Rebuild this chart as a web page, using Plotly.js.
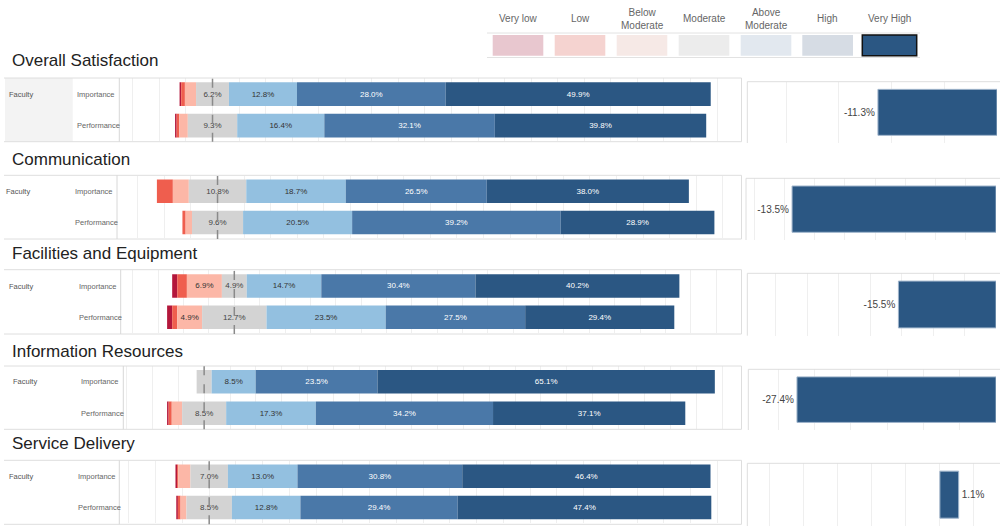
<!DOCTYPE html>
<html><head><meta charset="utf-8">
<script src="https://cdn.plot.ly/plotly-3.0.1.min.js"></script>
<style>html,body{margin:0;padding:0;background:#fff;} #chart{width:1000px;height:527px;}</style>
</head><body><div id="chart"></div>
<script>
// ---------- DATA ----------
const sections = ['Overall Satisfaction','Communication','Facilities and Equipment','Information Resources','Service Delivery'];
const groupLabel = 'Faculty';
const rowLabels = ['Importance','Performance'];
const levels = ['Very low','Low','Below<br>Moderate','Moderate','Above<br>Moderate','High','Very High'];
// each entry: [Importance, Performance] in %
const veryLow       = [[0.3,0.3],[0.0,0.0],[1.0,1.0],[0.0,0.3],[0.3,0.3]];
const low           = [[0.7,0.5],[3.0,0.6],[1.9,1.0],[0.0,0.6],[0.2,0.5]];
const belowModerate = [[2.1,1.6],[3.0,1.2],[6.9,4.9],[0.0,2.0],[2.3,1.1]];
const moderate      = [[6.2,9.3],[10.8,9.6],[4.9,12.7],[2.9,8.5],[7.0,8.5]];
const aboveModerate = [[12.8,16.4],[18.7,20.5],[14.7,23.5],[8.5,17.3],[13.0,12.8]];
const high          = [[28.0,32.1],[26.5,39.2],[30.4,27.5],[23.5,34.2],[30.8,29.4]];
const veryHigh      = [[49.9,39.8],[38.0,28.9],[40.2,29.4],[65.1,37.1],[46.4,47.4]];
const gap = [-11.3,-13.5,-15.5,-27.4,1.1];

// ---------- STYLE / LAYOUT GEOMETRY (pixels) ----------
const W = 1000, H = 527;
const fx = v => v / W, fy = v => 1 - v / H;
const barColors  = ['#b3173b','#ef5e4e','#fcb7a7','#d3d3d3','#93c0e0','#4a78a8','#2b5783'];
const textColors = ['#ffffff','#ffffff','#333333','#444444','#333333','#ffffff','#ffffff'];
const legendColors = ['#e8c7cf','#f5d3d0','#f6e9e6','#ececec','#e2e8ef','#d6dce4','#2b5783'];

const leftX = [[119.3,741],[117,741],[120.7,741],[123.3,741],[119.3,741]];
const leftY = [[78.4,141.4],[175.5,238.2],[270.4,332.8],[366,429],[460.7,523.1]];
const leftRange = [[-17.55,99.5],[-18.9,98.4],[-22.4,99.9],[-15.6,103.6],[-16.8,99.4]];
const rightX = [[747.3,997],[746,996],[747.3,996],[748.3,996],[747.3,997]];
const rightY = [[81.7,143],[178.3,240],[273.3,335.7],[369.3,430],[463.3,526]];
const rightRange = [[-23.7,0],[-16.55,0],[-39.5,0],[-34.1,0],[-11.3,3.35]];
const rightDtick = [5,2,5,5,2];
const boxY = [[78,141.7],[175.3,239],[269.7,334],[366,429.3],[460.3,524.3]];
const titleY = [61,159,254,351,443];
const facultyX = [6.5,4,6.5,11,6.5];
const rowLabelX = [75,73,77,79.3,76];

const FONT = 'Arial, "Liberation Sans", sans-serif';
const traces = [];
const layout = {
  width: W, height: H, margin: {l:0,r:0,t:0,b:0},
  paper_bgcolor: '#fff', plot_bgcolor: 'rgba(0,0,0,0)',
  showlegend: false, barmode: 'overlay', bargap: 0.25,
  font: {family: FONT, color: '#555'},
  shapes: [], annotations: []
};

const series = [veryLow, low, belowModerate, moderate, aboveModerate, high, veryHigh];

for (let i = 0; i < 5; i++) {
  const xn = i === 0 ? '' : String(i + 1);
  const xr = 'x' + xn, yr = 'y' + xn;
  // diverging bases from data
  const starts = [0, 1].map(r => -(veryLow[i][r] + low[i][r] + belowModerate[i][r] + moderate[i][r] / 2));
  const cum = starts.slice();
  series.forEach((s, k) => {
    const vals = [s[i][0], s[i][1]];
    const base = cum.slice();
    cum[0] += vals[0]; cum[1] += vals[1];
    traces.push({
      type: 'bar', orientation: 'h', xaxis: xr, yaxis: yr,
      y: rowLabels, x: vals, base: base,
      marker: {color: barColors[k], line: {width: 0}},
      text: vals.map(v => v >= 4 ? v.toFixed(1) + '%' : ''),
      textposition: 'inside', insidetextanchor: 'middle', textangle: 0,
      textfont: {size: 8, color: textColors[k], family: FONT},
      hoverinfo: 'skip'
    });
  });
  layout['xaxis' + xn] = {
    domain: [fx(leftX[i][0]), fx(leftX[i][1])], range: leftRange[i], anchor: yr,
    showticklabels: false, ticks: '', showgrid: true, gridcolor: '#efefef',
    tick0: 0, dtick: 5, zeroline: false, showline: false, fixedrange: true
  };
  layout['yaxis' + xn] = {
    domain: [fy(leftY[i][1]), fy(leftY[i][0])], anchor: xr, type: 'category',
    categoryorder: 'array', categoryarray: rowLabels, autorange: 'reversed',
    showticklabels: false, ticks: '', showgrid: false, zeroline: false, fixedrange: true
  };

  // right panel (gap)
  const rn = String(i + 6);
  traces.push({
    type: 'bar', orientation: 'h', xaxis: 'x' + rn, yaxis: 'y' + rn,
    y: [groupLabel], x: [gap[i]],
    marker: {color: '#2b5783', line: {width: 1, color: '#9fb4cb'}},
    text: [gap[i].toFixed(1) + '%'], textposition: 'outside', cliponaxis: false,
    textfont: {size: 10, color: '#444', family: FONT}, hoverinfo: 'skip'
  });
  layout['xaxis' + rn] = {
    domain: [fx(rightX[i][0]), fx(rightX[i][1])], range: rightRange[i], anchor: 'y' + rn,
    showticklabels: false, ticks: '', showgrid: true, gridcolor: '#efefef',
    tick0: 0, dtick: rightDtick[i], zeroline: false, showline: false, fixedrange: true
  };
  layout['yaxis' + rn] = {
    domain: [fy(rightY[i][1]), fy(rightY[i][0])], anchor: 'x' + rn, type: 'category',
    showticklabels: false, ticks: '', showgrid: false, zeroline: false, fixedrange: true
  };

  // panel frames
  const S = layout.shapes;
  if (i === 0) {
    S.push({type:'rect', xref:'paper', yref:'paper', x0:fx(5), x1:fx(72.7), y0:fy(boxY[i][1]), y1:fy(boxY[i][0]),
      fillcolor:'#f3f3f3', line:{width:0}, layer:'below'});
  }
  S.push({type:'line', xref:'paper', yref:'paper', x0:fx(4), x1:fx(741.5), y0:fy(boxY[i][0]), y1:fy(boxY[i][0]), line:{color:'#dedede', width:1}});
  S.push({type:'line', xref:'paper', yref:'paper', x0:fx(4), x1:fx(741.5), y0:fy(boxY[i][1]), y1:fy(boxY[i][1]), line:{color:'#dedede', width:1}});
  S.push({type:'line', xref:'paper', yref:'paper', x0:fx(leftX[i][0]), x1:fx(leftX[i][0]), y0:fy(boxY[i][1]), y1:fy(boxY[i][0]), line:{color:'#d8d8d8', width:1}});
  S.push({type:'line', xref:'paper', yref:'paper', x0:fx(741.5), x1:fx(741.5), y0:fy(boxY[i][1]), y1:fy(boxY[i][0]), line:{color:'#dedede', width:1}});
  // right frame
  S.push({type:'line', xref:'paper', yref:'paper', x0:fx(rightX[i][0]), x1:fx(1000), y0:fy(rightY[i][0]), y1:fy(rightY[i][0]), line:{color:'#dedede', width:1}});
  S.push({type:'line', xref:'paper', yref:'paper', x0:fx(rightX[i][0]), x1:fx(rightX[i][0]), y0:fy(rightY[i][1]), y1:fy(rightY[i][0]), line:{color:'#dedede', width:1}});
  // dashed centre line
  S.push({type:'line', xref:xr, yref:'paper', x0:0, x1:0, y0:fy(boxY[i][1]), y1:fy(boxY[i][0]), line:{color:'#8a8a8a', width:1.5, dash:'dash'}});

  // texts
  const A = layout.annotations;
  A.push({xref:'paper', yref:'paper', x:fx(10), y:fy(titleY[i]), xanchor:'left', yanchor:'middle', showarrow:false,
    text: sections[i], font:{size:17, color:'#222', family:FONT}});
  A.push({xref:'paper', yref:yr, x:fx(facultyX[i]), y:rowLabels[0], xanchor:'left', yanchor:'middle', showarrow:false,
    text: groupLabel, font:{size:7.5, color:'#555', family:FONT}});
  rowLabels.forEach(r => A.push({xref:'paper', yref:yr, x:fx(rowLabelX[i]), y:r, xanchor:'left', yanchor:'middle', showarrow:false,
    text: r, font:{size:7.5, color:'#666', family:FONT}}));
}

// legend (colour key)
const legX = [[492.7,543.3],[554.7,605.3],[616.7,667.3],[678.7,729.3],[740.7,791.3],[802.3,853],[862.3,916.7]];
layout.shapes.push({type:'line', xref:'paper', yref:'paper', x0:fx(487), x1:fx(920), y0:fy(33), y1:fy(33), line:{color:'#e2e2e2', width:1}});
layout.shapes.push({type:'line', xref:'paper', yref:'paper', x0:fx(487), x1:fx(920), y0:fy(57.5), y1:fy(57.5), line:{color:'#e2e2e2', width:1}});
levels.forEach((lv, k) => {
  layout.shapes.push({type:'rect', xref:'paper', yref:'paper', x0:fx(legX[k][0]), x1:fx(legX[k][1]), y0:fy(55.7), y1:fy(35),
    fillcolor: legendColors[k], line: k === 6 ? {color:'#111', width:1.5} : {width:0}});
  layout.annotations.push({xref:'paper', yref:'paper', x:fx((legX[k][0]+legX[k][1])/2), y:fy(18.5), xanchor:'center', yanchor:'middle',
    showarrow:false, text: lv, font:{size:10, color:'#666', family:FONT}});
});

Plotly.newPlot('chart', traces, layout, {staticPlot: true, displayModeBar: false});
</script></body></html>
